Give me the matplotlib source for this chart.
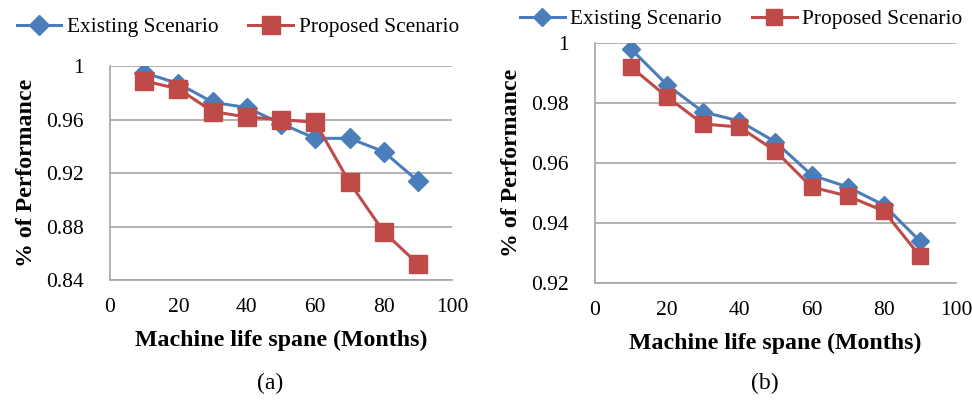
import matplotlib.pyplot as plt

# Machine life span (months)
months = [10, 20, 30, 40, 50, 60, 70, 80, 90]

# panel (a)
existing_a = [0.995, 0.987, 0.973, 0.969, 0.957, 0.946, 0.946, 0.936, 0.914]
proposed_a = [0.989, 0.983, 0.966, 0.962, 0.960, 0.958, 0.913, 0.876, 0.852]
yticks_a = [0.84, 0.88, 0.92, 0.96, 1.0]
yticklabels_a = ['0.84', '0.88', '0.92', '0.96', '1']

# panel (b)
existing_b = [0.998, 0.986, 0.977, 0.974, 0.967, 0.956, 0.952, 0.946, 0.934]
proposed_b = [0.992, 0.982, 0.973, 0.972, 0.964, 0.952, 0.949, 0.944, 0.929]
yticks_b = [0.92, 0.94, 0.96, 0.98, 1.0]
yticklabels_b = ['0.92', '0.94', '0.96', '0.98', '1']

xticks = [0, 20, 40, 60, 80, 100]

plt.rcParams['font.family'] = ['Liberation Serif', 'DejaVu Serif']

blue = '#4a7ebb'
red = '#be4b48'
grid = '#a6a6a6'

fig = plt.figure(figsize=(9.72, 4.05), dpi=100)


def draw(ax, existing, proposed, yticks, yticklabels, caption, cap_x, leg_pos, ms):
    ax.plot(months, existing, color=blue, lw=2.2, marker='D', ms=ms - 3,
            label='Existing Scenario')
    ax.plot(months, proposed, color=red, lw=2.2, marker='s', ms=ms,
            label='Proposed Scenario')
    ax.set_xlim(0, 100)
    ax.set_ylim(yticks[0], yticks[-1])
    ax.set_xticks(xticks)
    ax.set_yticks(yticks)
    ax.set_yticklabels(yticklabels)
    ax.tick_params(length=0, labelsize=15.5)
    ax.tick_params(axis='y', pad=19)
    ax.tick_params(axis='x', pad=13)
    ax.grid(axis='y', color=grid, lw=1.2)
    ax.set_axisbelow(True)
    for s in ['top', 'right']:
        ax.spines[s].set_visible(False)
    for s in ['left', 'bottom']:
        ax.spines[s].set_color(grid)
        ax.spines[s].set_linewidth(1.2)
    ax.set_xlabel('Machine life spane (Months)', fontsize=17.2, fontweight='bold',
                  labelpad=9)
    ax.set_ylabel('% of Performance', fontsize=17.2, fontweight='bold', labelpad=6)
    fig.text(cap_x, 0.04, caption, fontsize=17, ha='center')
    ax.legend(loc='center left', bbox_to_anchor=leg_pos,
              bbox_transform=fig.transFigure, ncol=2, frameon=False,
              fontsize=15.4, handlelength=2.1, columnspacing=1.4,
              handletextpad=0.25, borderaxespad=0, borderpad=0)


ax1 = fig.add_axes([0.1132, 0.3086, 0.352, 0.528])
draw(ax1, existing_a, proposed_a, yticks_a, yticklabels_a, '(a)', 0.278,
     (0.017, 0.933), 13)

ax2 = fig.add_axes([0.6121, 0.3012, 0.3714, 0.5926])
draw(ax2, existing_b, proposed_b, yticks_b, yticklabels_b, '(b)', 0.787,
     (0.535, 0.953), 12)

fig.savefig('out.png', dpi=100)
